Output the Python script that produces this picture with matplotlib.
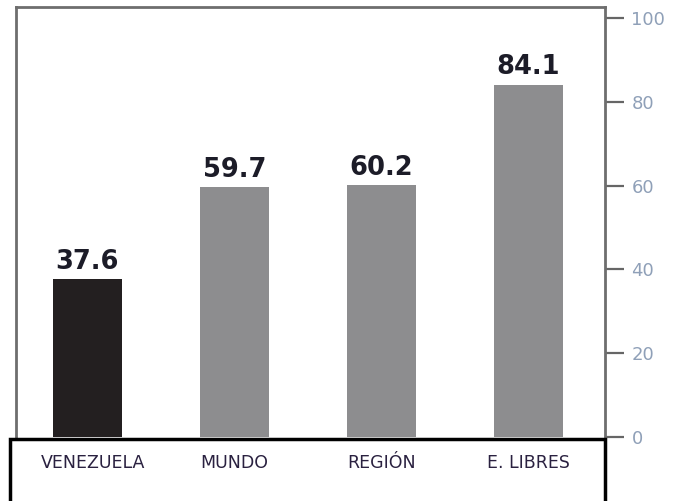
import matplotlib.pyplot as plt
from matplotlib.patches import Rectangle
from matplotlib.transforms import blended_transform_factory

# datos
categorias = ['VENEZUELA', 'MUNDO', 'REGIÓN', 'E. LIBRES']
valores = [37.6, 59.7, 60.2, 84.1]
colores = ['#231f20', '#8d8d8f', '#8d8d8f', '#8d8d8f']
ticks_y = [0, 20, 40, 60, 80, 100]

W, H = 673, 501
fig = plt.figure(figsize=(W / 100, H / 100), dpi=100)

# eje principal (borde izquierdo x=16, derecho x=605, arriba y=7, cero y=437)
ax = fig.add_axes([16 / W, (H - 437) / H, (605 - 16) / W, (437 - 7) / H])
x = range(len(categorias))
ax.bar(x, valores, width=0.47, color=colores, zorder=2)

for i, v in enumerate(valores):
    ax.text(i, v + 1.0, f'{v:.1f}', ha='center', va='bottom',
            fontsize=18.5, fontweight='heavy', color='#1c1c28')

ax.set_xlim(-0.486, 3.52)
ax.set_ylim(0, 102.6)
ax.set_xticks([])

ax.yaxis.tick_right()
ax.set_yticks(ticks_y)
ax.set_yticklabels([str(t) for t in ticks_y])
ax.tick_params(axis='y', direction='out', length=14, width=1.6,
               color='#666666', labelcolor='#8fa0b8', labelsize=13, pad=5)

for lado in ['left', 'top', 'right']:
    ax.spines[lado].set_color('#6e6e6e')
    ax.spines[lado].set_linewidth(2)
ax.spines['bottom'].set_visible(False)

# caja inferior con las etiquetas
caja = Rectangle((10 / W, -0.05), (605 - 10) / W, (H - 439) / H + 0.05,
                 transform=fig.transFigure, fill=False, edgecolor='black',
                 linewidth=2.5, clip_on=False)
fig.patches.append(caja)

trans = blended_transform_factory(ax.transData, fig.transFigure)
for i, c in enumerate(categorias):
    ax.text(i + 0.04 * (i == 0), (H - 463) / H, c, transform=trans,
            ha='center', va='center', fontsize=12.5, color='#2a2140',
            clip_on=False)

fig.savefig('out.png', dpi=100)
